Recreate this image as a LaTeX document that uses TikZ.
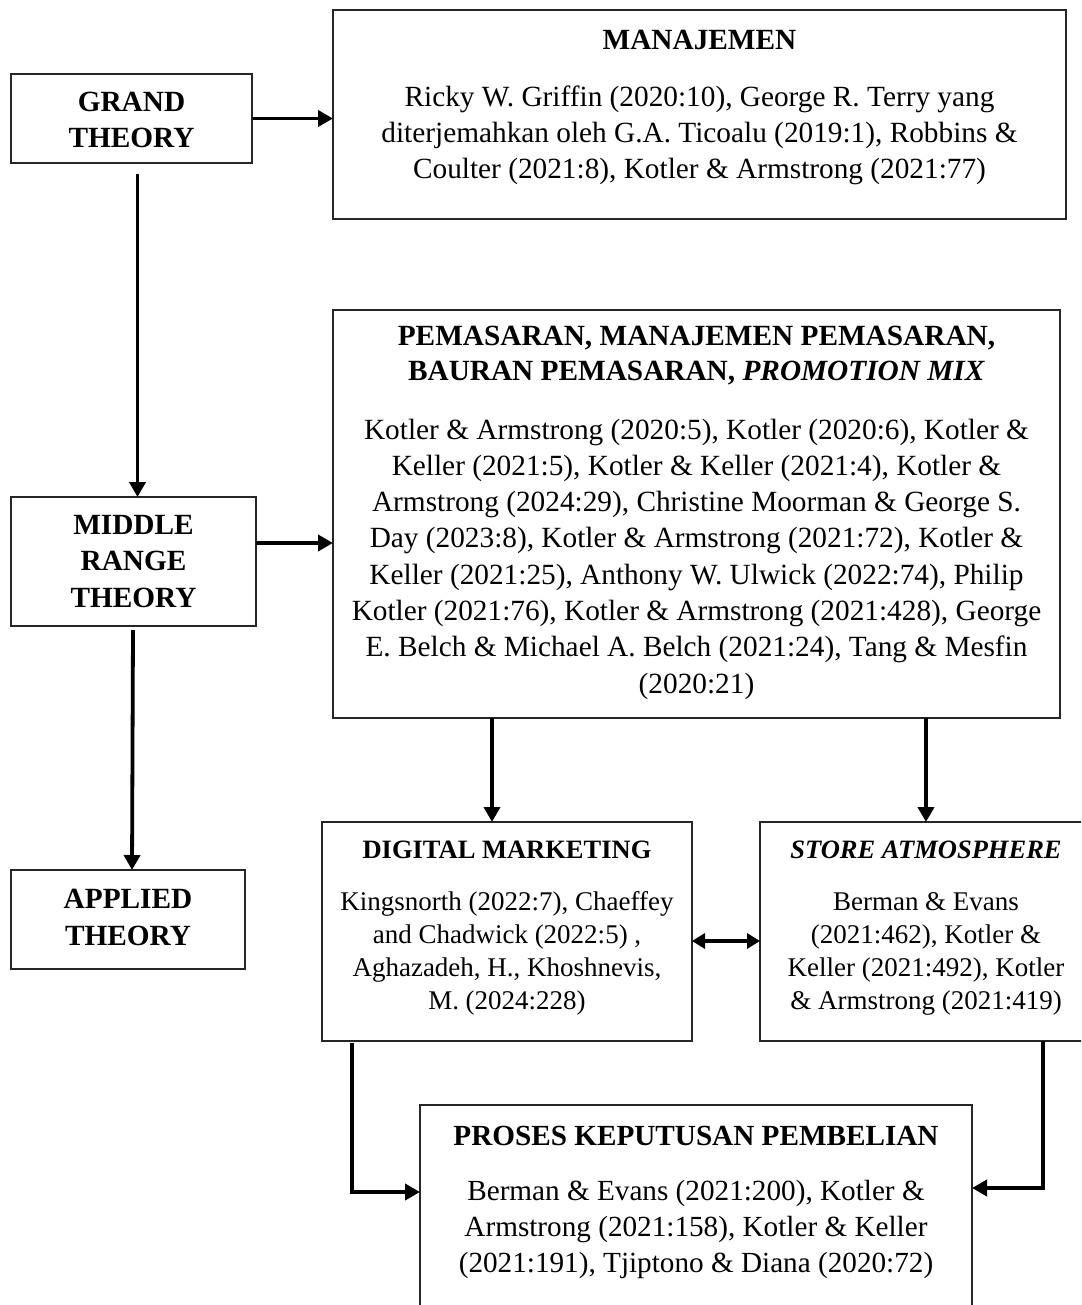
\documentclass[tikz,border=0pt]{standalone}
\usepackage{fontspec}
\setmainfont{Liberation Serif}
\usetikzlibrary{arrows.meta}
\begin{document}
\begin{tikzpicture}[x=1pt,y=-1pt,
  box/.style={draw=black!85,line width=1.3pt,inner sep=0pt,outer sep=0pt},
  big/.style={align=center,inner sep=0pt,font=\fontsize{29.3}{36.3}\selectfont},
  small/.style={align=center,inner sep=0pt,font=\fontsize{27}{33}\selectfont},
  arr/.style={line width=3.8pt,-{Triangle[length=15pt,width=16pt]}},
  arrb/.style={line width=3.8pt,{Triangle[length=13pt,width=15pt]}-{Triangle[length=13pt,width=15pt]}}]
\useasboundingbox (0,0) rectangle (1081,1305);
\clip (0,0) rectangle (1081,1305);
% boxes
\node[box,minimum width=241pt,minimum height=89pt] (grand) at (131.5,118.5) {};
\node[box,minimum width=733pt,minimum height=209pt] (manaj) at (699.5,114.5) {};
\node[box,minimum width=727pt,minimum height=408pt] (pemas) at (696.5,514) {};
\node[box,minimum width=245pt,minimum height=129pt] (middle) at (133.5,561.5) {};
\node[box,minimum width=234pt,minimum height=99pt] (applied) at (128,919.5) {};
\node[box,minimum width=370pt,minimum height=219pt] (digital) at (507,931.5) {};
\node[box,minimum width=332pt,minimum height=219pt] (store) at (926,931.5) {};
\node[box,minimum width=552pt,minimum height=215pt] (proses) at (696,1212.5) {};
% texts
\node[big,font=\fontsize{29.3}{36.3}\selectfont\bfseries] (tgrand) at (131.5,120) {GRAND\\THEORY};
\node[big,font=\fontsize{29.3}{36.5}\selectfont\bfseries] (tmiddle) at (133.5,561.5) {MIDDLE\\RANGE\\THEORY};
\node[big,font=\fontsize{29.3}{36.3}\selectfont\bfseries] (tapplied) at (128,917.5) {APPLIED\\THEORY};
\node[big,font=\fontsize{29.3}{36.3}\selectfont\bfseries] (hmanaj) at (699.5,40) {MANAJEMEN};
\node[big] (bmanaj) at (699.5,135.5) {Ricky W. Griffin (2020:10), George R. Terry yang\\diterjemahkan oleh G.A. Ticoalu (2019:1), Robbins \&\\Coulter (2021:8), Kotler \& Armstrong (2021:77)};
\node[big,font=\fontsize{29.3}{35}\selectfont\bfseries] (hpemas) at (696.5,355.5) {PEMASARAN, MANAJEMEN PEMASARAN,\\BAURAN PEMASARAN, \textit{PROMOTION MIX}};
\node[big] (bpemas) at (696.5,559) {Kotler \& Armstrong (2020:5), Kotler (2020:6), Kotler \&\\Keller (2021:5), Kotler \& Keller (2021:4), Kotler \&\\Armstrong (2024:29), Christine Moorman \& George S.\\Day (2023:8), Kotler \& Armstrong (2021:72), Kotler \&\\Keller (2021:25), Anthony W. Ulwick (2022:74), Philip\\Kotler (2021:76), Kotler \& Armstrong (2021:428), George\\E. Belch \& Michael A. Belch (2021:24), Tang \& Mesfin\\(2020:21)};
\node[small,font=\fontsize{26.5}{33}\selectfont\bfseries] (hdigital) at (507,850) {DIGITAL MARKETING};
\node[small] (bdigital) at (507,953.5) {Kingsnorth (2022:7), Chaeffey\\and Chadwick (2022:5) ,\\Aghazadeh, H., Khoshnevis,\\M. (2024:228)};
\node[small,font=\fontsize{26.5}{33}\selectfont\bfseries\itshape] (hstore) at (926,850) {STORE ATMOSPHERE};
\node[small] (bstore) at (926,953.5) {Berman \& Evans\\(2021:462), Kotler \&\\Keller (2021:492), Kotler\\\& Armstrong (2021:419)};
\node[big,font=\fontsize{29.2}{36}\selectfont\bfseries] (hproses) at (696,1136) {PROSES KEPUTUSAN PEMBELIAN};
\node[big,font=\fontsize{29.2}{36}\selectfont] (bproses) at (696,1229) {Berman \& Evans (2021:200), Kotler \&\\Armstrong (2021:158), Kotler \& Keller\\(2021:191), Tjiptono \& Diana (2020:72)};
% connectors
\draw[arr] (grand.east) -- (grand.east -| manaj.west);
\draw[arr] ([xshift=6pt,yshift=-11pt]grand.south) -- ([xshift=4pt]middle.north);
\draw[arr] ([yshift=18.5pt]middle.east) -- ([yshift=18.5pt]middle.east -| pemas.west);
\draw[arr] ([xshift=-0.5pt,yshift=-4pt]middle.south) -- ([xshift=4pt]applied.north);
\draw[arr] ([xshift=-15pt]digital.north |- pemas.south) -- ([xshift=-15pt]digital.north);
\draw[arr] (store.north |- pemas.south) -- (store.north);
\draw[arrb] ([yshift=-9.5pt]digital.east) -- ([yshift=-9.5pt]digital.east -| store.west);
\draw[arr] ([xshift=-155pt,yshift=-2pt]digital.south) |- ([yshift=20.5pt]proses.west);
\draw[arr] ([xshift=117pt]store.south) |- ([yshift=24.5pt]proses.east);
\end{tikzpicture}
\end{document}
